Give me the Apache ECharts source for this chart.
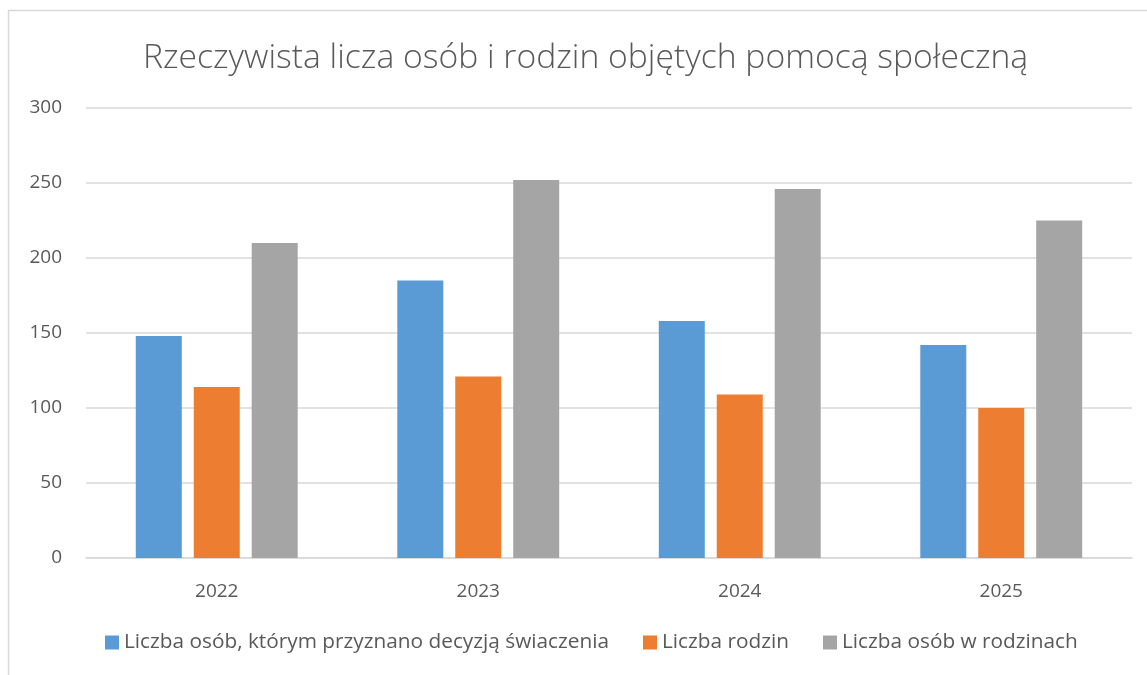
<!DOCTYPE html>
<html>
<head>
<meta charset="utf-8">
<script src="https://cdn.jsdelivr.net/npm/echarts@6/dist/echarts.min.js"></script>
<style>
  html, body { margin: 0; padding: 0; background: #fff; }
  #chart { width: 1147px; height: 675px; }
</style>
</head>
<body>
<div id="chart"></div>
<script>
const years = ['2022', '2023', '2024', '2025']
const osobyDecyzja = [148, 185, 158, 142]
const rodziny = [114, 121, 109, 100]
const osobyWRodzinach = [210, 252, 246, 225]
const yTicks = [0, 50, 100, 150, 200, 250, 300]

const font = "'Open Sans', 'Noto Sans', sans-serif"
const txt = '#595959'

let chart = echarts.init(document.getElementById('chart'))
chart.setOption({
  animation: false,
  textStyle: { fontFamily: font },
  title: {
    text: 'Rzeczywista licza osób i rodzin objętych pomocą społeczną',
    left: 138,
    top: 36,
    textStyle: { fontSize: 33.7, fontWeight: 300, color: txt, fontFamily: font }
  },
  graphic: [{
    type: 'rect',
    shape: { x: 8.5, y: 10.5, width: 1150, height: 700 },
    style: { fill: 'none', stroke: '#d9d9d9', lineWidth: 1.5 },
    silent: true
  }],
  legend: {
    bottom: 17,
    left: 100,
    itemWidth: 14,
    itemHeight: 14,
    itemGap: 34,
    icon: 'rect',
    textStyle: { fontSize: 20.8, color: txt, fontFamily: font },
    data: ['Liczba osób, którym przyznano decyzją świaczenia', 'Liczba rodzin', 'Liczba osób w rodzinach']
  },
  grid: { left: 86, right: 15, top: 108, bottom: 117, containLabel: false },
  xAxis: {
    type: 'category',
    data: years,
    axisLine: { lineStyle: { color: '#d9d9d9', width: 1.5 } },
    axisTick: { show: false },
    axisLabel: { fontSize: 19, color: txt, margin: 24 }
  },
  yAxis: {
    type: 'value',
    min: yTicks[0],
    max: yTicks[yTicks.length - 1],
    interval: 50,
    axisLine: { show: false },
    axisTick: { show: false },
    axisLabel: { fontSize: 19, color: txt, margin: 24 },
    splitLine: { lineStyle: { color: '#d9d9d9', width: 1.5 } }
  },
  series: [
    {
      name: 'Liczba osób, którym przyznano decyzją świaczenia',
      type: 'bar',
      data: osobyDecyzja,
      barWidth: 46,
      barGap: '26%',
      itemStyle: { color: '#5b9bd5' }
    },
    {
      name: 'Liczba rodzin',
      type: 'bar',
      data: rodziny,
      barWidth: 46,
      itemStyle: { color: '#ed7d31' }
    },
    {
      name: 'Liczba osób w rodzinach',
      type: 'bar',
      data: osobyWRodzinach,
      barWidth: 46,
      itemStyle: { color: '#a5a5a5' }
    }
  ]
})
</script>
</body>
</html>
